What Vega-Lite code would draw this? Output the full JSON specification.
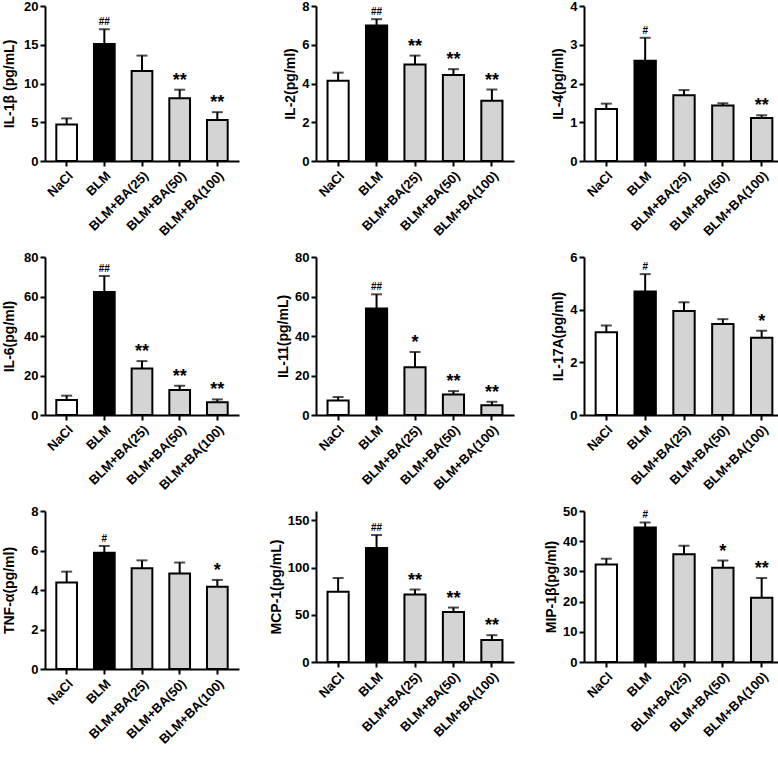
{
  "$schema": "https://vega.github.io/schema/vega-lite/v6.json",
  "background": "white",
  "padding": {"left": 2, "top": 0, "right": 0, "bottom": 0},
  "config": {
    "view": {"stroke": null},
    "font": "Liberation Sans",
    "axis": {
      "domainColor": "black", "domainWidth": 2, "tickColor": "black", "tickWidth": 2, "tickSize": 5,
      "labelFont": "Liberation Sans", "labelFontWeight": "bold", "labelFontSize": 13, "labelColor": "black",
      "titleFont": "Liberation Sans", "titleFontWeight": "bold", "titleFontSize": 14, "titleColor": "black",
      "grid": false, "labelPadding": 2
    },
    "axisX": {"labelAngle": -45, "title": null, "labelPadding": 3}
  },
  "datasets": {
    "d": [
      {"panel": "IL-1β", "group": "NaCl", "mean": 4.7, "upper": 5.5, "sig": ""},
      {"panel": "IL-1β", "group": "BLM", "mean": 15.1, "upper": 17.0, "sig": "##"},
      {"panel": "IL-1β", "group": "BLM+BA(25)", "mean": 11.6, "upper": 13.6, "sig": ""},
      {"panel": "IL-1β", "group": "BLM+BA(50)", "mean": 8.1, "upper": 9.2, "sig": "**"},
      {"panel": "IL-1β", "group": "BLM+BA(100)", "mean": 5.3, "upper": 6.3, "sig": "**"},
      {"panel": "IL-2", "group": "NaCl", "mean": 4.14, "upper": 4.56, "sig": ""},
      {"panel": "IL-2", "group": "BLM", "mean": 6.99, "upper": 7.32, "sig": "##"},
      {"panel": "IL-2", "group": "BLM+BA(25)", "mean": 4.98, "upper": 5.44, "sig": "**"},
      {"panel": "IL-2", "group": "BLM+BA(50)", "mean": 4.44, "upper": 4.74, "sig": "**"},
      {"panel": "IL-2", "group": "BLM+BA(100)", "mean": 3.11, "upper": 3.69, "sig": "**"},
      {"panel": "IL-4", "group": "NaCl", "mean": 1.34, "upper": 1.48, "sig": ""},
      {"panel": "IL-4", "group": "BLM", "mean": 2.59, "upper": 3.18, "sig": "#"},
      {"panel": "IL-4", "group": "BLM+BA(25)", "mean": 1.70, "upper": 1.83, "sig": ""},
      {"panel": "IL-4", "group": "BLM+BA(50)", "mean": 1.43, "upper": 1.49, "sig": ""},
      {"panel": "IL-4", "group": "BLM+BA(100)", "mean": 1.11, "upper": 1.18, "sig": "**"},
      {"panel": "IL-6", "group": "NaCl", "mean": 7.6, "upper": 9.8, "sig": ""},
      {"panel": "IL-6", "group": "BLM", "mean": 62.3, "upper": 70.4, "sig": "##"},
      {"panel": "IL-6", "group": "BLM+BA(25)", "mean": 23.6, "upper": 27.3, "sig": "**"},
      {"panel": "IL-6", "group": "BLM+BA(50)", "mean": 12.6, "upper": 14.8, "sig": "**"},
      {"panel": "IL-6", "group": "BLM+BA(100)", "mean": 6.4, "upper": 7.9, "sig": "**"},
      {"panel": "IL-11", "group": "NaCl", "mean": 7.4, "upper": 9.1, "sig": ""},
      {"panel": "IL-11", "group": "BLM", "mean": 53.9, "upper": 61.1, "sig": "##"},
      {"panel": "IL-11", "group": "BLM+BA(25)", "mean": 24.2, "upper": 31.9, "sig": "*"},
      {"panel": "IL-11", "group": "BLM+BA(50)", "mean": 10.4, "upper": 12.1, "sig": "**"},
      {"panel": "IL-11", "group": "BLM+BA(100)", "mean": 5.0, "upper": 6.7, "sig": "**"},
      {"panel": "IL-17A", "group": "NaCl", "mean": 3.14, "upper": 3.40, "sig": ""},
      {"panel": "IL-17A", "group": "BLM", "mean": 4.69, "upper": 5.35, "sig": "#"},
      {"panel": "IL-17A", "group": "BLM+BA(25)", "mean": 3.95, "upper": 4.28, "sig": ""},
      {"panel": "IL-17A", "group": "BLM+BA(50)", "mean": 3.46, "upper": 3.64, "sig": ""},
      {"panel": "IL-17A", "group": "BLM+BA(100)", "mean": 2.93, "upper": 3.20, "sig": "*"},
      {"panel": "TNF-α", "group": "NaCl", "mean": 4.38, "upper": 4.93, "sig": ""},
      {"panel": "TNF-α", "group": "BLM", "mean": 5.89, "upper": 6.23, "sig": "#"},
      {"panel": "TNF-α", "group": "BLM+BA(25)", "mean": 5.10, "upper": 5.50, "sig": ""},
      {"panel": "TNF-α", "group": "BLM+BA(50)", "mean": 4.83, "upper": 5.39, "sig": ""},
      {"panel": "TNF-α", "group": "BLM+BA(100)", "mean": 4.16, "upper": 4.51, "sig": "*"},
      {"panel": "MCP-1", "group": "NaCl", "mean": 74.5, "upper": 89.0, "sig": ""},
      {"panel": "MCP-1", "group": "BLM", "mean": 120.7, "upper": 134.5, "sig": "##"},
      {"panel": "MCP-1", "group": "BLM+BA(25)", "mean": 71.5, "upper": 76.8, "sig": "**"},
      {"panel": "MCP-1", "group": "BLM+BA(50)", "mean": 53.1, "upper": 57.7, "sig": "**"},
      {"panel": "MCP-1", "group": "BLM+BA(100)", "mean": 23.4, "upper": 28.4, "sig": "**"},
      {"panel": "MIP-1β", "group": "NaCl", "mean": 32.3, "upper": 34.2, "sig": ""},
      {"panel": "MIP-1β", "group": "BLM", "mean": 44.5, "upper": 46.2, "sig": "#"},
      {"panel": "MIP-1β", "group": "BLM+BA(25)", "mean": 35.7, "upper": 38.5, "sig": ""},
      {"panel": "MIP-1β", "group": "BLM+BA(50)", "mean": 31.2, "upper": 33.6, "sig": "*"},
      {"panel": "MIP-1β", "group": "BLM+BA(100)", "mean": 21.3, "upper": 27.8, "sig": "**"}
    ]
  },
  "columns": 3,
  "spacing": {"row": 12, "column": 30},
  "concat": [
    {
      "width": 194, "height": 155,
      "data": {"name": "d"}, "transform": [{"filter": "datum.panel == 'IL-1β'"}],
      "encoding": {"x": {"field": "group", "type": "nominal", "scale": {"domain": ["NaCl", "BLM", "BLM+BA(25)", "BLM+BA(50)", "BLM+BA(100)"], "paddingInner": 0.45, "paddingOuter": 0.3}}},
      "layer": [
        {"mark": {"type": "bar", "stroke": "black", "strokeWidth": 2}, "encoding": {"y": {"field": "mean", "type": "quantitative", "scale": {"domain": [0, 20]}, "axis": {"values": [0, 5, 10, 15, 20], "title": "IL-1β (pg/mL)", "minExtent": 25}}, "fill": {"field": "group", "type": "nominal", "scale": {"domain": ["NaCl", "BLM", "BLM+BA(25)", "BLM+BA(50)", "BLM+BA(100)"], "range": ["white", "black", "#d4d4d4", "#d4d4d4", "#d4d4d4"]}, "legend": null}}},
        {"mark": {"type": "rule", "color": "black", "strokeWidth": 2}, "encoding": {"y": {"field": "mean", "type": "quantitative", "axis": {"values": [0, 5, 10, 15, 20], "title": "IL-1β (pg/mL)", "minExtent": 25}}, "y2": {"field": "upper"}}},
        {"mark": {"type": "tick", "color": "black", "thickness": 2, "size": 11}, "encoding": {"y": {"field": "upper", "type": "quantitative", "axis": {"values": [0, 5, 10, 15, 20], "title": "IL-1β (pg/mL)", "minExtent": 25}}}},
        {"mark": {"type": "text", "fontWeight": "bold", "baseline": "alphabetic", "color": "black", "dy": -4}, "encoding": {"y": {"field": "upper", "type": "quantitative", "axis": {"values": [0, 5, 10, 15, 20], "title": "IL-1β (pg/mL)", "minExtent": 25}}, "text": {"field": "sig"}, "size": {"condition": {"test": "indexof(datum.sig, '#') >= 0", "value": 10}, "value": 18}}}
      ]
    },
    {
      "width": 198, "height": 155,
      "data": {"name": "d"}, "transform": [{"filter": "datum.panel == 'IL-2'"}],
      "encoding": {"x": {"field": "group", "type": "nominal", "scale": {"domain": ["NaCl", "BLM", "BLM+BA(25)", "BLM+BA(50)", "BLM+BA(100)"], "paddingInner": 0.45, "paddingOuter": 0.3}}},
      "layer": [
        {"mark": {"type": "bar", "stroke": "black", "strokeWidth": 2}, "encoding": {"y": {"field": "mean", "type": "quantitative", "scale": {"domain": [0, 8]}, "axis": {"values": [0, 2, 4, 6, 8], "title": "IL-2(pg/ml)"}}, "fill": {"field": "group", "type": "nominal", "scale": {"domain": ["NaCl", "BLM", "BLM+BA(25)", "BLM+BA(50)", "BLM+BA(100)"], "range": ["white", "black", "#d4d4d4", "#d4d4d4", "#d4d4d4"]}, "legend": null}}},
        {"mark": {"type": "rule", "color": "black", "strokeWidth": 2}, "encoding": {"y": {"field": "mean", "type": "quantitative", "axis": {"values": [0, 2, 4, 6, 8], "title": "IL-2(pg/ml)"}}, "y2": {"field": "upper"}}},
        {"mark": {"type": "tick", "color": "black", "thickness": 2, "size": 11}, "encoding": {"y": {"field": "upper", "type": "quantitative", "axis": {"values": [0, 2, 4, 6, 8], "title": "IL-2(pg/ml)"}}}},
        {"mark": {"type": "text", "fontWeight": "bold", "baseline": "alphabetic", "color": "black", "dy": -4}, "encoding": {"y": {"field": "upper", "type": "quantitative", "axis": {"values": [0, 2, 4, 6, 8], "title": "IL-2(pg/ml)"}}, "text": {"field": "sig"}, "size": {"condition": {"test": "indexof(datum.sig, '#') >= 0", "value": 10}, "value": 18}}}
      ]
    },
    {
      "width": 200, "height": 155,
      "data": {"name": "d"}, "transform": [{"filter": "datum.panel == 'IL-4'"}],
      "encoding": {"x": {"field": "group", "type": "nominal", "scale": {"domain": ["NaCl", "BLM", "BLM+BA(25)", "BLM+BA(50)", "BLM+BA(100)"], "paddingInner": 0.45, "paddingOuter": 0.3}}},
      "layer": [
        {"mark": {"type": "bar", "stroke": "black", "strokeWidth": 2}, "encoding": {"y": {"field": "mean", "type": "quantitative", "scale": {"domain": [0, 4]}, "axis": {"values": [0, 1, 2, 3, 4], "title": "IL-4(pg/ml)"}}, "fill": {"field": "group", "type": "nominal", "scale": {"domain": ["NaCl", "BLM", "BLM+BA(25)", "BLM+BA(50)", "BLM+BA(100)"], "range": ["white", "black", "#d4d4d4", "#d4d4d4", "#d4d4d4"]}, "legend": null}}},
        {"mark": {"type": "rule", "color": "black", "strokeWidth": 2}, "encoding": {"y": {"field": "mean", "type": "quantitative", "axis": {"values": [0, 1, 2, 3, 4], "title": "IL-4(pg/ml)"}}, "y2": {"field": "upper"}}},
        {"mark": {"type": "tick", "color": "black", "thickness": 2, "size": 11}, "encoding": {"y": {"field": "upper", "type": "quantitative", "axis": {"values": [0, 1, 2, 3, 4], "title": "IL-4(pg/ml)"}}}},
        {"mark": {"type": "text", "fontWeight": "bold", "baseline": "alphabetic", "color": "black", "dy": -4}, "encoding": {"y": {"field": "upper", "type": "quantitative", "axis": {"values": [0, 1, 2, 3, 4], "title": "IL-4(pg/ml)"}}, "text": {"field": "sig"}, "size": {"condition": {"test": "indexof(datum.sig, '#') >= 0", "value": 10}, "value": 18}}}
      ]
    },
    {
      "width": 194, "height": 158,
      "data": {"name": "d"}, "transform": [{"filter": "datum.panel == 'IL-6'"}],
      "encoding": {"x": {"field": "group", "type": "nominal", "scale": {"domain": ["NaCl", "BLM", "BLM+BA(25)", "BLM+BA(50)", "BLM+BA(100)"], "paddingInner": 0.45, "paddingOuter": 0.3}}},
      "layer": [
        {"mark": {"type": "bar", "stroke": "black", "strokeWidth": 2}, "encoding": {"y": {"field": "mean", "type": "quantitative", "scale": {"domain": [0, 80]}, "axis": {"values": [0, 20, 40, 60, 80], "title": "IL-6(pg/ml)", "minExtent": 25}}, "fill": {"field": "group", "type": "nominal", "scale": {"domain": ["NaCl", "BLM", "BLM+BA(25)", "BLM+BA(50)", "BLM+BA(100)"], "range": ["white", "black", "#d4d4d4", "#d4d4d4", "#d4d4d4"]}, "legend": null}}},
        {"mark": {"type": "rule", "color": "black", "strokeWidth": 2}, "encoding": {"y": {"field": "mean", "type": "quantitative", "axis": {"values": [0, 20, 40, 60, 80], "title": "IL-6(pg/ml)", "minExtent": 25}}, "y2": {"field": "upper"}}},
        {"mark": {"type": "tick", "color": "black", "thickness": 2, "size": 11}, "encoding": {"y": {"field": "upper", "type": "quantitative", "axis": {"values": [0, 20, 40, 60, 80], "title": "IL-6(pg/ml)", "minExtent": 25}}}},
        {"mark": {"type": "text", "fontWeight": "bold", "baseline": "alphabetic", "color": "black", "dy": -4}, "encoding": {"y": {"field": "upper", "type": "quantitative", "axis": {"values": [0, 20, 40, 60, 80], "title": "IL-6(pg/ml)", "minExtent": 25}}, "text": {"field": "sig"}, "size": {"condition": {"test": "indexof(datum.sig, '#') >= 0", "value": 10}, "value": 18}}}
      ]
    },
    {
      "width": 198, "height": 158,
      "data": {"name": "d"}, "transform": [{"filter": "datum.panel == 'IL-11'"}],
      "encoding": {"x": {"field": "group", "type": "nominal", "scale": {"domain": ["NaCl", "BLM", "BLM+BA(25)", "BLM+BA(50)", "BLM+BA(100)"], "paddingInner": 0.45, "paddingOuter": 0.3}}},
      "layer": [
        {"mark": {"type": "bar", "stroke": "black", "strokeWidth": 2}, "encoding": {"y": {"field": "mean", "type": "quantitative", "scale": {"domain": [0, 80]}, "axis": {"values": [0, 20, 40, 60, 80], "title": "IL-11(pg/mL)"}}, "fill": {"field": "group", "type": "nominal", "scale": {"domain": ["NaCl", "BLM", "BLM+BA(25)", "BLM+BA(50)", "BLM+BA(100)"], "range": ["white", "black", "#d4d4d4", "#d4d4d4", "#d4d4d4"]}, "legend": null}}},
        {"mark": {"type": "rule", "color": "black", "strokeWidth": 2}, "encoding": {"y": {"field": "mean", "type": "quantitative", "axis": {"values": [0, 20, 40, 60, 80], "title": "IL-11(pg/mL)"}}, "y2": {"field": "upper"}}},
        {"mark": {"type": "tick", "color": "black", "thickness": 2, "size": 11}, "encoding": {"y": {"field": "upper", "type": "quantitative", "axis": {"values": [0, 20, 40, 60, 80], "title": "IL-11(pg/mL)"}}}},
        {"mark": {"type": "text", "fontWeight": "bold", "baseline": "alphabetic", "color": "black", "dy": -4}, "encoding": {"y": {"field": "upper", "type": "quantitative", "axis": {"values": [0, 20, 40, 60, 80], "title": "IL-11(pg/mL)"}}, "text": {"field": "sig"}, "size": {"condition": {"test": "indexof(datum.sig, '#') >= 0", "value": 10}, "value": 18}}}
      ]
    },
    {
      "width": 200, "height": 158,
      "data": {"name": "d"}, "transform": [{"filter": "datum.panel == 'IL-17A'"}],
      "encoding": {"x": {"field": "group", "type": "nominal", "scale": {"domain": ["NaCl", "BLM", "BLM+BA(25)", "BLM+BA(50)", "BLM+BA(100)"], "paddingInner": 0.45, "paddingOuter": 0.3}}},
      "layer": [
        {"mark": {"type": "bar", "stroke": "black", "strokeWidth": 2}, "encoding": {"y": {"field": "mean", "type": "quantitative", "scale": {"domain": [0, 6]}, "axis": {"values": [0, 2, 4, 6], "title": "IL-17A(pg/ml)"}}, "fill": {"field": "group", "type": "nominal", "scale": {"domain": ["NaCl", "BLM", "BLM+BA(25)", "BLM+BA(50)", "BLM+BA(100)"], "range": ["white", "black", "#d4d4d4", "#d4d4d4", "#d4d4d4"]}, "legend": null}}},
        {"mark": {"type": "rule", "color": "black", "strokeWidth": 2}, "encoding": {"y": {"field": "mean", "type": "quantitative", "axis": {"values": [0, 2, 4, 6], "title": "IL-17A(pg/ml)"}}, "y2": {"field": "upper"}}},
        {"mark": {"type": "tick", "color": "black", "thickness": 2, "size": 11}, "encoding": {"y": {"field": "upper", "type": "quantitative", "axis": {"values": [0, 2, 4, 6], "title": "IL-17A(pg/ml)"}}}},
        {"mark": {"type": "text", "fontWeight": "bold", "baseline": "alphabetic", "color": "black", "dy": -4}, "encoding": {"y": {"field": "upper", "type": "quantitative", "axis": {"values": [0, 2, 4, 6], "title": "IL-17A(pg/ml)"}}, "text": {"field": "sig"}, "size": {"condition": {"test": "indexof(datum.sig, '#') >= 0", "value": 10}, "value": 18}}}
      ]
    },
    {
      "width": 194, "height": 158,
      "data": {"name": "d"}, "transform": [{"filter": "datum.panel == 'TNF-α'"}],
      "encoding": {"x": {"field": "group", "type": "nominal", "scale": {"domain": ["NaCl", "BLM", "BLM+BA(25)", "BLM+BA(50)", "BLM+BA(100)"], "paddingInner": 0.45, "paddingOuter": 0.3}}},
      "layer": [
        {"mark": {"type": "bar", "stroke": "black", "strokeWidth": 2}, "encoding": {"y": {"field": "mean", "type": "quantitative", "scale": {"domain": [0, 8]}, "axis": {"values": [0, 2, 4, 6, 8], "title": "TNF-α(pg/ml)", "minExtent": 25}}, "fill": {"field": "group", "type": "nominal", "scale": {"domain": ["NaCl", "BLM", "BLM+BA(25)", "BLM+BA(50)", "BLM+BA(100)"], "range": ["white", "black", "#d4d4d4", "#d4d4d4", "#d4d4d4"]}, "legend": null}}},
        {"mark": {"type": "rule", "color": "black", "strokeWidth": 2}, "encoding": {"y": {"field": "mean", "type": "quantitative", "axis": {"values": [0, 2, 4, 6, 8], "title": "TNF-α(pg/ml)", "minExtent": 25}}, "y2": {"field": "upper"}}},
        {"mark": {"type": "tick", "color": "black", "thickness": 2, "size": 11}, "encoding": {"y": {"field": "upper", "type": "quantitative", "axis": {"values": [0, 2, 4, 6, 8], "title": "TNF-α(pg/ml)", "minExtent": 25}}}},
        {"mark": {"type": "text", "fontWeight": "bold", "baseline": "alphabetic", "color": "black", "dy": -4}, "encoding": {"y": {"field": "upper", "type": "quantitative", "axis": {"values": [0, 2, 4, 6, 8], "title": "TNF-α(pg/ml)", "minExtent": 25}}, "text": {"field": "sig"}, "size": {"condition": {"test": "indexof(datum.sig, '#') >= 0", "value": 10}, "value": 18}}}
      ]
    },
    {
      "width": 198, "height": 151,
      "data": {"name": "d"}, "transform": [{"filter": "datum.panel == 'MCP-1'"}],
      "encoding": {"x": {"field": "group", "type": "nominal", "scale": {"domain": ["NaCl", "BLM", "BLM+BA(25)", "BLM+BA(50)", "BLM+BA(100)"], "paddingInner": 0.45, "paddingOuter": 0.3}}},
      "layer": [
        {"mark": {"type": "bar", "stroke": "black", "strokeWidth": 2}, "encoding": {"y": {"field": "mean", "type": "quantitative", "scale": {"domain": [0, 150]}, "axis": {"values": [0, 50, 100, 150], "title": "MCP-1(pg/mL)"}}, "fill": {"field": "group", "type": "nominal", "scale": {"domain": ["NaCl", "BLM", "BLM+BA(25)", "BLM+BA(50)", "BLM+BA(100)"], "range": ["white", "black", "#d4d4d4", "#d4d4d4", "#d4d4d4"]}, "legend": null}}},
        {"mark": {"type": "rule", "color": "black", "strokeWidth": 2}, "encoding": {"y": {"field": "mean", "type": "quantitative", "axis": {"values": [0, 50, 100, 150], "title": "MCP-1(pg/mL)"}}, "y2": {"field": "upper"}}},
        {"mark": {"type": "tick", "color": "black", "thickness": 2, "size": 11}, "encoding": {"y": {"field": "upper", "type": "quantitative", "axis": {"values": [0, 50, 100, 150], "title": "MCP-1(pg/mL)"}}}},
        {"mark": {"type": "text", "fontWeight": "bold", "baseline": "alphabetic", "color": "black", "dy": -4}, "encoding": {"y": {"field": "upper", "type": "quantitative", "axis": {"values": [0, 50, 100, 150], "title": "MCP-1(pg/mL)"}}, "text": {"field": "sig"}, "size": {"condition": {"test": "indexof(datum.sig, '#') >= 0", "value": 10}, "value": 18}}}
      ]
    },
    {
      "width": 200, "height": 151,
      "data": {"name": "d"}, "transform": [{"filter": "datum.panel == 'MIP-1β'"}],
      "encoding": {"x": {"field": "group", "type": "nominal", "scale": {"domain": ["NaCl", "BLM", "BLM+BA(25)", "BLM+BA(50)", "BLM+BA(100)"], "paddingInner": 0.45, "paddingOuter": 0.3}}},
      "layer": [
        {"mark": {"type": "bar", "stroke": "black", "strokeWidth": 2}, "encoding": {"y": {"field": "mean", "type": "quantitative", "scale": {"domain": [0, 50]}, "axis": {"values": [0, 10, 20, 30, 40, 50], "title": "MIP-1β(pg/ml)"}}, "fill": {"field": "group", "type": "nominal", "scale": {"domain": ["NaCl", "BLM", "BLM+BA(25)", "BLM+BA(50)", "BLM+BA(100)"], "range": ["white", "black", "#d4d4d4", "#d4d4d4", "#d4d4d4"]}, "legend": null}}},
        {"mark": {"type": "rule", "color": "black", "strokeWidth": 2}, "encoding": {"y": {"field": "mean", "type": "quantitative", "axis": {"values": [0, 10, 20, 30, 40, 50], "title": "MIP-1β(pg/ml)"}}, "y2": {"field": "upper"}}},
        {"mark": {"type": "tick", "color": "black", "thickness": 2, "size": 11}, "encoding": {"y": {"field": "upper", "type": "quantitative", "axis": {"values": [0, 10, 20, 30, 40, 50], "title": "MIP-1β(pg/ml)"}}}},
        {"mark": {"type": "text", "fontWeight": "bold", "baseline": "alphabetic", "color": "black", "dy": -4}, "encoding": {"y": {"field": "upper", "type": "quantitative", "axis": {"values": [0, 10, 20, 30, 40, 50], "title": "MIP-1β(pg/ml)"}}, "text": {"field": "sig"}, "size": {"condition": {"test": "indexof(datum.sig, '#') >= 0", "value": 10}, "value": 18}}}
      ]
    }
  ]
}
